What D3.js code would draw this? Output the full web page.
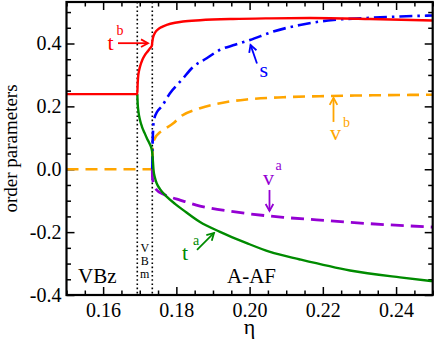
<!DOCTYPE html>
<html><head><meta charset="utf-8">
<script src="https://cdn.jsdelivr.net/npm/d3@7"></script>
<style>
html,body{margin:0;padding:0;background:#fff;}
svg{display:block;}
svg text{font-family:"Liberation Serif","Times New Roman",serif !important;}
</style>
</head><body>
<svg id="c" width="436" height="342"></svg>
<script>
// ---------- data ----------
const xMajorTicks = [0.16, 0.18, 0.20, 0.22, 0.24];
const yMajorTicks = [-0.4, -0.2, 0.0, 0.2, 0.4];
const transitions = [0.16933, 0.17343];   // dotted phase boundaries

// t^b (red)
const tbEta = [0.15, 0.16933, 0.16942, 0.16953, 0.16980, 0.17007, 0.17075, 0.17144, 0.17226, 0.17280, 0.17329, 0.17343, 0.17362, 0.17417, 0.17499, 0.17608, 0.17736, 0.17963, 0.18181, 0.18646, 0.19547, 0.20557, 0.21649, 0.23288, 0.25];
const tbVal = [0.239, 0.239, 0.268, 0.290, 0.313, 0.326, 0.349, 0.364, 0.376, 0.385, 0.392, 0.405, 0.418, 0.434, 0.445, 0.453, 0.459, 0.466, 0.470, 0.474, 0.478, 0.480, 0.481, 0.478, 0.473];

// t^a (green)
const taEta = [0.16933, 0.16944, 0.16966, 0.17007, 0.17062, 0.17130, 0.17198, 0.17267, 0.17321, 0.17343, 0.17357, 0.17376, 0.17417, 0.17471, 0.17553, 0.17736, 0.17963, 0.18189, 0.18646, 0.19192, 0.19648, 0.19921, 0.20557, 0.21376, 0.22742, 0.24107, 0.25];
const taVal = [0.239, 0.208, 0.182, 0.157, 0.135, 0.116, 0.098, 0.082, 0.066, 0.052, 0.030, -0.002, -0.028, -0.047, -0.063, -0.087, -0.110, -0.130, -0.168, -0.199, -0.222, -0.235, -0.263, -0.287, -0.322, -0.344, -0.356];

// s (blue, dash-dot)
const sEta = [0.17343, 0.17348, 0.17362, 0.17389, 0.17471, 0.17595, 0.17826, 0.18146, 0.18463, 0.18828, 0.19192, 0.19601, 0.20011, 0.20647, 0.21376, 0.22285, 0.23198, 0.24107, 0.25];
const sVal = [0.0, 0.061, 0.119, 0.157, 0.182, 0.199, 0.242, 0.284, 0.326, 0.353, 0.380, 0.396, 0.411, 0.438, 0.459, 0.475, 0.481, 0.486, 0.489];

// v^b (orange, dashed)
const vbEta = [0.15, 0.17335, 0.17343, 0.17351, 0.17376, 0.17417, 0.17499, 0.17643, 0.17916, 0.18099, 0.18646, 0.19375, 0.19921, 0.20920, 0.22195, 0.23198, 0.25];
const vbVal = [0.0, 0.0, 0.030, 0.068, 0.087, 0.099, 0.112, 0.125, 0.146, 0.166, 0.194, 0.214, 0.222, 0.229, 0.233, 0.235, 0.237];

// v^a (purple, dashed)
const vaEta = [0.17343, 0.17348, 0.17376, 0.17463, 0.17635, 0.17826, 0.18099, 0.18646, 0.19555, 0.20011, 0.20920, 0.21832, 0.22742, 0.23834, 0.25];
const vaVal = [0.0, -0.028, -0.044, -0.066, -0.079, -0.088, -0.098, -0.117, -0.135, -0.142, -0.153, -0.161, -0.169, -0.177, -0.184];

// ---------- layout ----------
const FONT = '"Liberation Serif","Times New Roman",serif';
const L = 66.5, R = 432.7, T = 2, B = 295;
const svg = d3.select("#c");
const x = d3.scaleLinear().domain([0.15, 0.25]).range([L, R]);
const y = d3.scaleLinear().domain([-0.4, 0.532]).range([B, T]);

const xMinor = d3.range(21).map(i => +(0.15 + i * 0.005).toFixed(3)).filter(v => !xMajorTicks.some(m => Math.abs(m - v) < 1e-9));
const yMinor = d3.range(19).map(i => +(-0.4 + i * 0.05).toFixed(3)).filter(v => !yMajorTicks.some(m => Math.abs(m - v) < 1e-9));

svg.append("defs").append("clipPath").attr("id", "clip")
  .append("rect").attr("x", L).attr("y", T).attr("width", R - L).attr("height", B - T);

function styleAxis(g) {
  g.attr("font-family", FONT);
  g.select(".domain").remove();
  g.selectAll(".tick line").attr("stroke", "#000").attr("stroke-width", 1.5);
  g.selectAll("text").attr("fill", "#000").style("font-family", FONT).style("font-size", "20px");
}

// bottom
svg.append("g").attr("transform", `translate(0,${B})`)
  .call(d3.axisBottom(x).tickValues(xMajorTicks).tickSize(-8).tickPadding(7.8).tickFormat(d => d.toFixed(2)))
  .call(styleAxis);
svg.append("g").attr("transform", `translate(0,${B})`)
  .call(d3.axisBottom(x).tickValues(xMinor).tickSize(-4.5).tickFormat(""))
  .call(styleAxis);
// top
svg.append("g").attr("transform", `translate(0,${T})`)
  .call(d3.axisTop(x).tickValues(xMajorTicks).tickSize(-8).tickFormat(""))
  .call(styleAxis);
svg.append("g").attr("transform", `translate(0,${T})`)
  .call(d3.axisTop(x).tickValues(xMinor).tickSize(-4.5).tickFormat(""))
  .call(styleAxis);
// left
svg.append("g").attr("transform", `translate(${L},0)`)
  .call(d3.axisLeft(y).tickValues(yMajorTicks).tickSize(-8).tickPadding(5).tickFormat(d => d.toFixed(1)))
  .call(styleAxis);
svg.append("g").attr("transform", `translate(${L},0)`)
  .call(d3.axisLeft(y).tickValues(yMinor).tickSize(-4.5).tickFormat(""))
  .call(styleAxis);
// right
svg.append("g").attr("transform", `translate(${R},0)`)
  .call(d3.axisRight(y).tickValues(yMajorTicks).tickSize(-8).tickFormat(""))
  .call(styleAxis);
svg.append("g").attr("transform", `translate(${R},0)`)
  .call(d3.axisRight(y).tickValues(yMinor).tickSize(-4.5).tickFormat(""))
  .call(styleAxis);

// dotted transition lines
svg.append("g").selectAll("line").data(transitions).join("line")
  .attr("x1", d => x(d)).attr("x2", d => x(d))
  .attr("y1", T).attr("y2", B)
  .attr("stroke", "#000").attr("stroke-width", 1.6)
  .attr("stroke-dasharray", "1.6,2.6");

// series
const line = d3.line().x(d => x(d[0])).y(d => y(d[1])).curve(d3.curveMonotoneX);
const series = [
  { eta: vbEta, val: vbVal, color: "#ffa500", dash: "12,7", w: 2.6 },
  { eta: vaEta, val: vaVal, color: "#9400d3", dash: "13,7", w: 2.8 },
  { eta: sEta,  val: sVal,  color: "#0000ff", dash: "13,5,2.5,5", w: 2.6 },
  { eta: taEta, val: taVal, color: "#008b00", dash: null, w: 2.4 },
  { eta: tbEta, val: tbVal, color: "#ff0000", dash: null, w: 2.4 }
];
const gl = svg.append("g").attr("clip-path", "url(#clip)");
series.forEach(s => {
  gl.append("path").datum(s.eta.map((e, i) => [e, s.val[i]]))
    .attr("d", line).attr("fill", "none")
    .attr("stroke", s.color).attr("stroke-width", s.w)
    .attr("stroke-dasharray", s.dash);
});

// frame
svg.append("rect").attr("x", L).attr("y", T).attr("width", R - L).attr("height", B - T)
  .attr("fill", "none").attr("stroke", "#000").attr("stroke-width", 2.2);

function txt(sel) { return sel.style("font-family", FONT); }

// axis titles
txt(svg.append("text")).attr("x", (L + R) / 2).attr("y", 334).attr("text-anchor", "middle")
  .style("font-size", "22px").text("η");
txt(svg.append("text")).attr("transform", `translate(17,${(T + B) / 2}) rotate(-90)`)
  .attr("text-anchor", "middle").style("font-size", "19px").text("order parameters");

// annotations (anchored in data units)
function arrow(e1, v1, e2, v2, color) {
  const x1 = x(e1), y1 = y(v1), x2 = x(e2), y2 = y(v2);
  const a = Math.atan2(y2 - y1, x2 - x1), len = 8, spread = 0.5;
  const g = svg.append("g").attr("stroke", color).attr("stroke-width", 1.8).attr("fill", "none");
  g.append("line").attr("x1", x1).attr("y1", y1).attr("x2", x2).attr("y2", y2);
  g.append("polyline").attr("points", [
    [x2 - len * Math.cos(a - spread), y2 - len * Math.sin(a - spread)],
    [x2, y2],
    [x2 - len * Math.cos(a + spread), y2 - len * Math.sin(a + spread)]
  ].map(p => p.join(",")).join(" "));
}
function label(e, v, main, sup, color, dx, dy) {
  txt(svg.append("text")).attr("x", x(e)).attr("y", y(v)).attr("fill", color)
    .style("font-size", "22px").text(main);
  if (sup) txt(svg.append("text")).attr("x", x(e) + dx).attr("y", y(v) + dy).attr("fill", color)
    .style("font-size", "14px").text(sup);
}
label(0.16120, 0.3796, "t", "b", "#ff0000", 9, -15);
arrow(0.16406, 0.4010, 0.17226, 0.4010, "#ff0000");
label(0.20270, 0.2937, "s", null, "#0000ff");
arrow(0.20202, 0.3366, 0.20025, 0.3955, "#0000ff");
label(0.22196, 0.0932, "v", "b", "#ffa500", 13, -13);
arrow(0.22291, 0.1505, 0.22291, 0.2269, "#ffa500");
label(0.20366, -0.0500, "v", "a", "#9400d3", 12.5, -15);
arrow(0.20543, -0.0659, 0.20543, -0.1327, "#9400d3");
label(0.18154, -0.2886, "t", "a", "#008b00", 11, -15);
arrow(0.18564, -0.2568, 0.19028, -0.2027, "#008b00");

txt(svg.append("text")).attr("x", x(0.15314)).attr("y", y(-0.3618)).style("font-size", "21px").text("VBz");
txt(svg.append("text")).attr("x", x(0.19383)).attr("y", y(-0.3618)).style("font-size", "21px").text("A-AF");
const midT = (transitions[0] + transitions[1]) / 2;
["V", "B", "m"].forEach((c, i) => {
  txt(svg.append("text")).attr("x", x(midT)).attr("y", y(-0.2618 - i * 0.0425))
    .attr("text-anchor", "middle").style("font-size", "12px").text(c);
});
</script>
</body></html>
